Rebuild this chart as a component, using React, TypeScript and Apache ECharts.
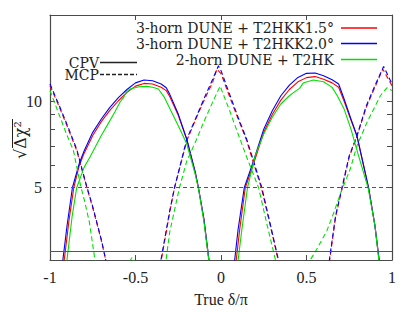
import React, { useEffect, useRef } from "react";
import * as echarts from "echarts";

// ---- data (x = true δ/π, y = sqrt(Δχ²)) ----
const xTicks = [-1, -0.5, 0, 0.5, 1];
const yLabelValues = [5, 10];
const yTickValues = [5, 6, 7, 8, 9, 10];
const refLevels = [3, 5]; // 3σ solid, 5σ dashed

const legendLabels = [
  "3-horn DUNE + T2HKK1.5°",
  "3-horn DUNE + T2HKK2.0°",
  "2-horn DUNE + T2HK",
];
const typeLabels = ["CPV", "MCP"];

const cpvRed = [
  [-0.92, 2.7], [-0.89, 3.8], [-0.861, 5.0], [-0.83, 5.95], [-0.8, 6.6], [-0.75, 7.6], [-0.7, 8.5], [-0.65, 9.3],
  [-0.6, 10.05], [-0.55, 10.75], [-0.5, 11.3], [-0.45, 11.55], [-0.4, 11.5], [-0.35, 11.2], [-0.32, 10.9],
  [-0.3, 10.4], [-0.25, 8.95], [-0.2, 7.35], [-0.15, 5.63], [-0.132, 5.0], [-0.1, 3.88], [-0.068, 2.7],
  [0.086, 2.7], [0.11, 3.6], [0.142, 5.0], [0.19, 6.05], [0.25, 7.8], [0.3, 9.0], [0.35, 10.1], [0.4, 11.0],
  [0.45, 11.7], [0.5, 12.1], [0.55, 12.2], [0.6, 11.95], [0.65, 11.6], [0.688, 11.2], [0.72, 10.0], [0.76, 8.6],
  [0.795, 7.55], [0.83, 6.1], [0.863, 5.0], [0.9, 3.7], [0.928, 2.7],
];
const cpvBlue = [
  [-0.928, 2.7], [-0.9, 3.7], [-0.869, 5.0], [-0.828, 6.1], [-0.8, 6.73], [-0.75, 7.8], [-0.7, 8.68], [-0.65, 9.53],
  [-0.6, 10.3], [-0.55, 11.0], [-0.5, 11.6], [-0.45, 11.87], [-0.4, 11.8], [-0.35, 11.5], [-0.32, 11.15],
  [-0.3, 10.6], [-0.25, 9.03], [-0.2, 7.39], [-0.15, 5.65], [-0.132, 5.0], [-0.1, 3.89], [-0.067, 2.7],
  [0.077, 2.7], [0.1, 3.58], [0.136, 5.0], [0.19, 6.2], [0.25, 8.0], [0.3, 9.28], [0.35, 10.46], [0.4, 11.4],
  [0.45, 12.12], [0.5, 12.52], [0.55, 12.55], [0.6, 12.29], [0.65, 11.9], [0.688, 11.5], [0.72, 10.19],
  [0.76, 8.68], [0.795, 7.59], [0.83, 6.13], [0.863, 5.0], [0.9, 3.69], [0.928, 2.7],
];
const cpvGreen = [
  [-0.904, 2.7], [-0.87, 4.0], [-0.844, 5.0], [-0.8, 5.9], [-0.766, 6.4], [-0.7, 7.6], [-0.668, 8.2], [-0.62, 9.2],
  [-0.59, 9.95], [-0.57, 10.3], [-0.555, 10.75], [-0.532, 11.05], [-0.48, 11.25], [-0.434, 11.28], [-0.4, 11.2],
  [-0.366, 11.04], [-0.33, 10.3], [-0.298, 9.4], [-0.24, 8.0], [-0.2, 7.1], [-0.15, 5.55], [-0.13, 4.9],
  [-0.1, 3.82], [-0.068, 2.7],
  [0.097, 2.7], [0.12, 3.5], [0.155, 5.0], [0.2, 6.47], [0.25, 7.69], [0.3, 8.8], [0.35, 9.79], [0.4, 10.46],
  [0.44, 10.9], [0.46, 11.1], [0.48, 11.58], [0.54, 11.87], [0.6, 11.71], [0.65, 11.19], [0.68, 10.46],
  [0.72, 9.4], [0.76, 8.0], [0.8, 6.6], [0.86, 5.0], [0.9, 3.7], [0.926, 2.7],
];
const mcpRed = [
  [-1, 11.34], [-0.95, 9.7], [-0.9, 8.2], [-0.844, 6.75], [-0.8, 5.4], [-0.783, 4.97], [-0.75, 4.25], [-0.7, 3.28],
  [-0.668, 2.7],
  [-0.354, 2.7], [-0.3, 4.1], [-0.272, 5.0], [-0.25, 5.6], [-0.2, 7.3], [-0.15, 8.6], [-0.1, 10.05], [-0.05, 11.6],
  [-0.024, 12.96], [0, 12.5], [0.05, 10.4], [0.1, 8.7], [0.15, 7.3], [0.19, 6.1], [0.236, 5.0], [0.29, 3.65],
  [0.34, 2.7],
  [0.632, 2.7], [0.67, 3.95], [0.709, 5.0], [0.75, 6.4], [0.795, 7.55], [0.85, 9.55], [0.9, 11.2],
  [0.946, 12.96], [1, 11.34],
];
const mcpBlue = [
  [-1, 11.5], [-0.95, 9.8], [-0.9, 8.3], [-0.844, 6.82], [-0.8, 5.45], [-0.783, 5.0], [-0.75, 4.3], [-0.7, 3.3],
  [-0.668, 2.7],
  [-0.356, 2.7], [-0.3, 4.15], [-0.272, 5.0], [-0.25, 5.63], [-0.2, 7.39], [-0.15, 8.67], [-0.1, 10.2],
  [-0.05, 11.9], [-0.015, 13.3], [0, 12.8], [0.05, 10.6], [0.1, 8.8], [0.15, 7.39], [0.19, 6.2], [0.239, 5.0],
  [0.29, 3.69], [0.342, 2.7],
  [0.63, 2.7], [0.67, 3.99], [0.707, 5.0], [0.75, 6.47], [0.795, 7.59], [0.85, 9.66], [0.9, 11.34],
  [0.951, 13.24], [1, 11.5],
];
const mcpGreen = [
  [-1, 10.9], [-0.95, 9.1], [-0.9, 7.6], [-0.863, 6.75], [-0.82, 5.05], [-0.8, 4.55], [-0.77, 3.8], [-0.733, 2.7],
  [-0.545, 2.7], [-0.52, 2.86], [-0.495, 2.7],
  [-0.325, 2.7], [-0.3, 3.5], [-0.243, 5.0], [-0.2, 6.2], [-0.15, 7.2], [-0.1, 8.5], [-0.05, 9.9], [-0.005, 11.3],
  [0.05, 9.3], [0.1, 7.7], [0.15, 6.4], [0.22, 5.0], [0.27, 3.7], [0.325, 2.7],
  [0.515, 2.7], [0.525, 2.82], [0.56, 3.05], [0.62, 3.55], [0.66, 4.1], [0.7, 4.8], [0.756, 5.81], [0.795, 7.0],
  [0.854, 8.45], [0.932, 10.46], [0.97, 11.15], [1, 10.9],
];

const colors = ["#ff0000", "#0000ff", "#00e000"];
const cpvSets = [cpvRed, cpvBlue, cpvGreen];
const mcpSets = [mcpRed, mcpBlue, mcpGreen];

const serif = "'DejaVu Serif', serif";
const tickFont = "'Liberation Serif', serif";
const axisColor = "#4a4a4a";

export default function App() {
  const ref = useRef<HTMLDivElement>(null);

  useEffect(() => {
    if (!ref.current) return;
    document.body.style.margin = "0";
    const chart = echarts.init(ref.current, undefined, { renderer: "svg" });

    const series: any[] = [];
    colors.forEach((c, i) => {
      series.push({
        type: "line",
        data: cpvSets[i],
        showSymbol: false,
        clip: true,
        lineStyle: { color: c, width: 1.1, type: "solid" },
        z: 3,
      });
      series.push({
        type: "line",
        data: mcpSets[i],
        showSymbol: false,
        clip: true,
        lineStyle: { color: c, width: 1.1, type: [5, 3] },
        z: 3,
      });
    });
    series.push({
      type: "line",
      data: [],
      markLine: {
        silent: true,
        symbol: ["none", "none"],
        label: { show: false },
        data: refLevels.map((v, i) => ({
          yAxis: v,
          lineStyle: { color: "#555", width: 1, type: i === 0 ? "solid" : [4, 3] },
        })),
      },
    });

    const xBase = {
      type: "value",
      min: xTicks[0],
      max: xTicks[xTicks.length - 1],
      interval: 0.5,
      splitLine: { show: false },
      axisLine: { show: true, onZero: false, lineStyle: { color: axisColor, width: 1.2 } },
      axisTick: { show: true, inside: true, length: 5, lineStyle: { color: axisColor } },
    };
    const yBase = {
      type: "log",
      logBase: 10,
      min: 2.8,
      max: 20,
      splitLine: { show: false },
      minorTick: { show: false },
      axisLine: { show: true, onZero: false, lineStyle: { color: axisColor, width: 1.2 } },
      axisTick: { show: true, inside: true, length: 5, customValues: yTickValues, lineStyle: { color: axisColor } },
    };

    const lx1 = 341, lx2 = 377;
    const legendYs = [28, 43.5, 59.5];
    const graphics: any[] = [];
    legendLabels.forEach((t, i) => {
      graphics.push({
        type: "text",
        x: 334,
        y: legendYs[i],
        style: { text: t, fontFamily: serif, fontSize: 14, lineHeight: 14, fill: "#222", align: "right", verticalAlign: "middle" },
      });
      graphics.push({
        type: "line",
        shape: { x1: lx1, y1: legendYs[i], x2: lx2, y2: legendYs[i] },
        style: { stroke: colors[i], lineWidth: 1.5 },
      });
    });
    const typeYs = [62.5, 74.5];
    typeLabels.forEach((t, i) => {
      graphics.push({
        type: "text",
        x: 99,
        y: typeYs[i],
        style: { text: t, fontFamily: serif, fontSize: 14, lineHeight: 11, fill: "#222", align: "right", verticalAlign: "middle" },
      });
      graphics.push({
        type: "line",
        shape: { x1: 100, y1: typeYs[i], x2: 137, y2: typeYs[i] },
        style: { stroke: "#222", lineWidth: 1.5, lineDash: i === 0 ? null : [4, 2] },
      });
    });
    graphics.push({
      type: "text",
      x: 20,
      y: 140,
      rotation: Math.PI / 2,
      style: { text: "√Δχ²", fontFamily: serif, fontSize: 16, fill: "#222", align: "center", verticalAlign: "middle" },
    });
    graphics.push({
      type: "line",
      shape: { x1: 12.5, y1: 119, x2: 12.5, y2: 148 },
      style: { stroke: "#222", lineWidth: 1 },
    });

    chart.setOption({
      animation: false,
      backgroundColor: "#fff",
      grid: { left: 50, right: 23, top: 15, bottom: 51 },
      xAxis: [
        {
          ...xBase,
          position: "bottom",
          name: "True δ/π",
          nameLocation: "middle",
          nameGap: 31,
          nameTextStyle: { fontFamily: tickFont, fontSize: 16, color: "#222" },
          axisLabel: { fontFamily: tickFont, fontSize: 16, color: "#222", margin: 9, formatter: (v: number) => String(v) },
        },
        { ...xBase, position: "top", axisLabel: { show: false } },
      ],
      yAxis: [
        {
          ...yBase,
          position: "left",
          axisLabel: { fontFamily: tickFont, fontSize: 16, color: "#222", margin: 8, customValues: yLabelValues, formatter: (v: number) => String(v) },
        },
        { ...yBase, position: "right", axisLabel: { show: false } },
      ],
      series,
      graphic: graphics,
    });

    return () => chart.dispose();
  }, []);

  return <div ref={ref} style={{ width: 415, height: 312 }} />;
}
